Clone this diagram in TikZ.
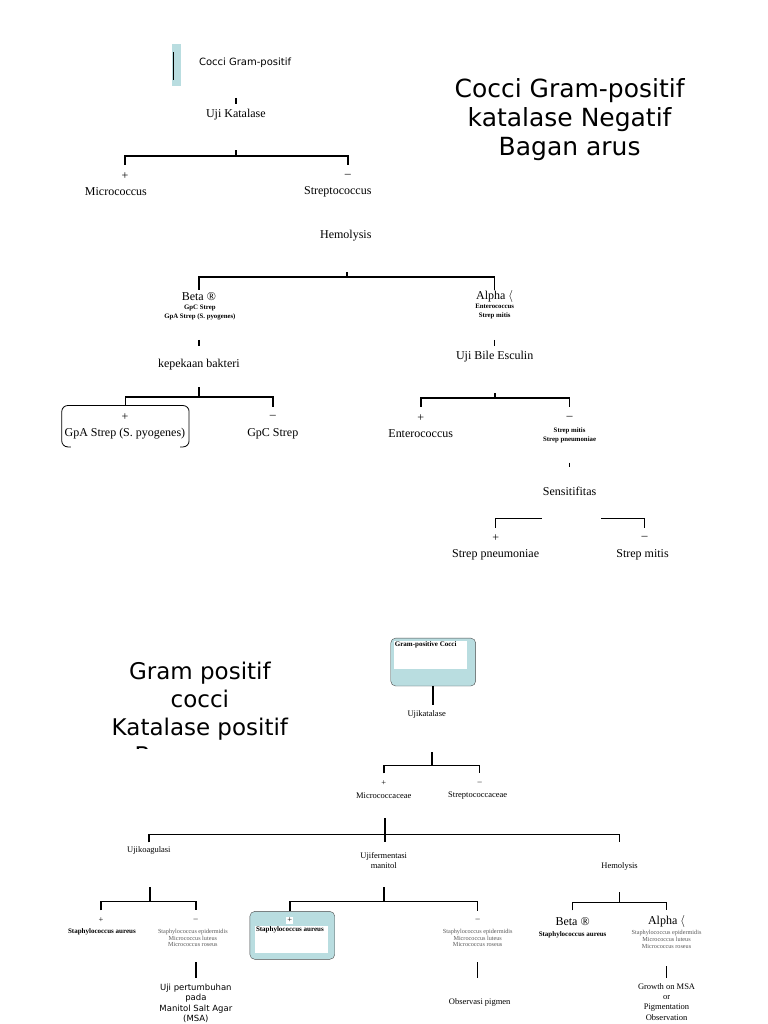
\documentclass[tikz,border=0pt]{standalone}
\usepackage{fontspec}
\setmainfont{Liberation Serif}
\newfontfamily\dejavu{DejaVu Sans}
\usetikzlibrary{calc}
\definecolor{paleblue}{RGB}{185,221,224}

\begin{document}
\begin{tikzpicture}[x=1pt, y=-1pt, inner sep=1pt,
  lbl/.style={font=\fontsize{12}{14}\selectfont},
  slbl/.style={font=\fontsize{8.5}{10.5}\selectfont, align=center},
  sans/.style={font=\dejavu\fontsize{8.5}{10.6}\selectfont, align=center},
  sgn/.style={font=\fontsize{12}{13}\selectfont},
  ssgn/.style={font=\fontsize{8.5}{9}\selectfont},
  tiny/.style={font=\bfseries\fontsize{6.8}{9}\selectfont, align=center},
  tinyb/.style={font=\bfseries\fontsize{7}{8}\selectfont},
  lst/.style={font=\fontsize{6.2}{7}\selectfont, text=black!65, align=center},
  ttl/.style={font=\dejavu\fontsize{25}{29}\selectfont, align=center},
  link/.style={line width=1.6pt},
  cbox/.style={fill=paleblue, draw=black!70, rounded corners=5pt, minimum width=85pt, minimum height=48pt}]
\path[fill=white] (0,0) rectangle (768,1024);

% Cocci Gram-positif, katalase negatif
\node[fill=paleblue, minimum width=9pt, minimum height=42pt, inner sep=0pt] (root) at (176.5,65) {};
\draw[line width=1.2pt] ([xshift=1.5pt,yshift=-8pt]root.north west) -- ([xshift=1.5pt,yshift=6pt]root.south west);
\node[font=\dejavu\fontsize{10}{12}\selectfont, anchor=west] (rootlbl) at (198,63) {Cocci Gram-positif};
\node[ttl] (ttl1) at (570,120) {Cocci Gram-positif\\katalase Negatif\\Bagan arus};
\node[lbl] (kat) at (236,115) {Uji Katalase};
\draw[link] (kat) ++(0,-17) -- ++(0,6);
\coordinate (j1) at (236,156);
\node[sgn] (mp) at (125,176) {+};
\node[lbl] (micro) at (116,192) {Micrococcus};
\node[sgn] (mm) at (348,176) {–};
\node[lbl] (strep) at (338,192) {Streptococcus};
\draw[link] (j1) -- ++(0,-6);
\draw[link] (mp |- j1) ++(0,9) -- (mp |- j1) -- (mm |- j1) -- ++(0,9);

\node[lbl] (hemo) at (346,236) {Hemolysis};
\coordinate (j2) at (347.5,277);
\node[lbl] (beta) at (199,297) {Beta ®};
\node[tiny] (betasub) at (200,312.5) {GpC Strep\\GpA Strep (S. pyogenes)};
\node[lbl] (alpha) at (495,297) {Alpha $\langle$};
\node[tiny] (alphasub) at (495,312) {Enterococcus\\Strep mitis};
\draw[link] (j2) -- ++(0,-5);
\draw[link] (beta |- j2) ++(0,13) -- (beta |- j2) -- (alpha |- j2) -- ++(0,13);

% beta branch
\node[lbl] (kep) at (199,365) {kepekaan bakteri};
\draw[link] (kep) ++(0,-25) -- ++(0,6);
\coordinate (j3) at (199,397);
\node[minimum width=127pt, minimum height=41pt, inner sep=0pt] (gpabox) at (125.5,426.5) {};
\draw[line width=0.8pt, rounded corners=6pt] ([xshift=9pt]gpabox.south west) -- (gpabox.south west) -- (gpabox.north west) -- (gpabox.north east) -- (gpabox.south east) -- ([xshift=-9pt]gpabox.south east);
\node[sgn] (gp) at (125,417) {+};
\node[lbl] (gpa) at (125,434) {GpA Strep (S. pyogenes)};
\node[sgn] (gcm) at (273,417) {–};
\node[lbl] (gpc) at (273,434) {GpC Strep};
\draw[link] (j3) -- ++(0,-10);
\draw[link] (gpabox.north) -- (gpabox.north |- j3) -- (gcm |- j3) -- ++(0,10);

% alpha branch
\node[lbl] (ube) at (495,357) {Uji Bile Esculin};
\draw[link] (ube) ++(0,-17) -- ++(0,6);
\coordinate (j4) at (495.5,398);
\node[sgn] (ep) at (421,418) {+};
\node[lbl] (ent) at (421,434) {Enterococcus};
\node[sgn] (em) at (570,418) {–};
\node[tiny] (emsub) at (570,435.5) {Strep mitis\\Strep pneumoniae};
\draw[link] (j4) -- ++(0,-5);
\draw[link] (ep |- j4) ++(0,9) -- (ep |- j4) -- (em |- j4) -- ++(0,9);
\node[lbl] (sens) at (570,492) {Sensitifitas};
\draw[link] (sens) ++(0,-29) -- ++(0,4);
\coordinate (j5) at (570.5,519);
\node[sgn] (sp) at (496,538) {+};
\node[lbl] (spn) at (496,555) {Strep pneumoniae};
\node[sgn] (sm) at (645,538) {–};
\node[lbl] (smt) at (643,555) {Strep mitis};
\draw[link] (sp |- j5) ++(0,9) -- (sp |- j5) -- ++(46,0);
\draw[link] (sm |- j5) ++(0,9) -- (sm |- j5) -- ++(-44,0);

% Gram positif cocci, katalase positif
\begin{scope}
  \clip (0,600) rectangle (768,749);
  \node[ttl, font=\dejavu\fontsize{23}{28}\selectfont] (ttl2) at (200,716) {Gram positif\\cocci\\Katalase positif\\Bagan arus};
\end{scope}
\node[cbox] (gpcbox) at (433.5,662.5) {};
\node[fill=white, anchor=north west, minimum width=73pt, minimum height=28pt, inner sep=0pt] (gpcin) at (394,641) {};
\node[tinyb, anchor=north west] (gpc) at (gpcin.north west) {Gram-positive Cocci};
\draw[link] (gpcbox.south) -- ++(0,19);
\node[slbl] (ujk) at (427,715) {Ujikatalase};
\coordinate (j6) at (432,766);
\node[ssgn] (mcp) at (384,784) {+};
\node[slbl] (mcc) at (384,796.5) {Micrococcaceae};
\node[ssgn] (scm) at (480,784) {–};
\node[slbl] (scc) at (478,796.5) {Streptococcaceae};
\draw[link] (j6) -- ++(0,-14);
\draw[link] (mcp |- j6) ++(0,8) -- (mcp |- j6) -- (scm |- j6) -- ++(0,8);

\coordinate (j7) at (385,835);
\node[slbl] (kg) at (149,851) {Ujikoagulasi};
\node[slbl] (umf) at (384,861) {Ujifermentasi\\manitol};
\node[slbl] (hem2) at (620,867) {Hemolysis};
\draw[link] (j7) ++(0,-16) -- ++(0,24);
\draw[link] (kg |- j7) ++(0,8) -- (kg |- j7) -- (hem2 |- j7) -- ++(0,8);

% koagulasi
\coordinate (j8) at (150,902);
\node[ssgn] (kp) at (101,921) {+};
\node[tinyb] (ksa) at (102,932) {Staphylococcus aureus};
\node[ssgn] (km) at (196,921) {–};
\node[lst] (klist) at (193,938.5) {Staphylococcus epidermidis\\Micrococcus luteus\\Micrococcus roseus};
\draw[link] (j8) -- ++(0,-14);
\draw[link] (kp |- j8) ++(0,9) -- (kp |- j8) -- (km |- j8) -- ++(0,9);
\draw[link] (km) ++(0,42) -- ++(0,16);
\node[sans] (msa) at (196,1004) {Uji pertumbuhan\\pada\\Manitol Salt Agar\\(MSA)};

% fermentasi manitol
\coordinate (j9) at (384,902);
\node[cbox] (fbox) at (292.5,936) {};
\node[fill=white, anchor=north west, minimum width=73pt, minimum height=27pt, inner sep=0pt] (fin) at (255,926) {};
\node[tinyb, anchor=north west] (fsa) at (fin.north west) {Staphylococcus aureus};
\node[ssgn, fill=white] (fp) at (290,921) {+};
\node[ssgn] (fm) at (478,921) {–};
\node[lst] (flist) at (478,938.5) {Staphylococcus epidermidis\\Micrococcus luteus\\Micrococcus roseus};
\draw[link] (j9) -- ++(0,-14);
\draw[link] (fbox.north -| fp) -- (fp |- j9) -- (fm |- j9) -- ++(0,10);
\draw[link] (fm) ++(0,42) -- ++(0,16);
\node[slbl] (obs) at (480,1003) {Observasi pigmen};

% hemolysis
\coordinate (j10) at (620,903);
\node[lbl] (b2) at (573,922) {Beta ®};
\node[tinyb] (b2sub) at (573,935) {Staphylococcus aureus};
\node[lbl] (a2) at (667,922) {Alpha $\langle$};
\node[lst] (a2list) at (667,940) {Staphylococcus epidermidis\\Micrococcus luteus\\Micrococcus roseus};
\draw[link] (j10) -- ++(0,-10);
\draw[link] (b2 |- j10) ++(0,8) -- (b2 |- j10) -- (a2 |- j10) -- ++(0,8);
\draw[link] (a2) ++(0,45) -- ++(0,12);
\node[slbl] (grw) at (667,1002.5) {Growth on MSA\\or\\Pigmentation\\Observation};
\end{tikzpicture}
\end{document}
